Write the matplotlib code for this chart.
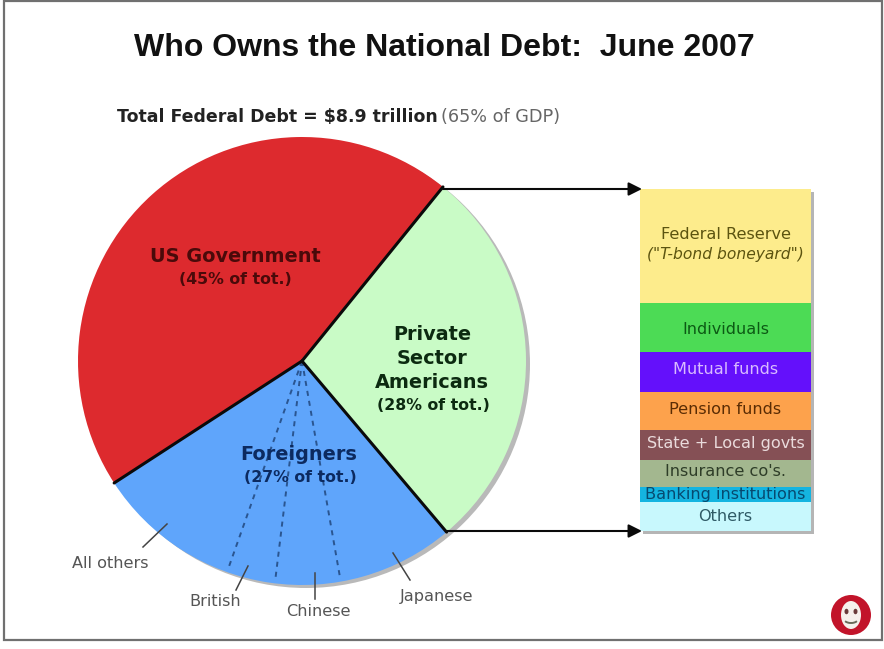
"""Who owns the national debt: pie of holders plus a stacked breakdown of the private share."""

import numpy as np
import matplotlib
matplotlib.use("Agg")
import matplotlib.pyplot as plt
from matplotlib.patches import Circle, Ellipse, Rectangle, Arc

W, H = 884, 649

# Share of total debt, percent
holder_names = ["US Government", "Foreigners", "Private Sector\nAmericans"]
holder_shares = [45, 27, 28]
holder_colors = ["#dd2a2e", "#5fa5fb", "#c9fbc6"]
holder_text = ["#4a0a0a", "#0c2a60", "#0c2a10"]

# Foreign holders, percent of total debt, in order from the red edge
foreign_names = ["All others", "British", "Chinese", "Japanese"]
foreign_shares = [10.4, 3.5, 4.7, 8.4]

# Private sector breakdown, percent of private holdings, top to bottom
private_names = ["Federal Reserve", "Individuals", "Mutual funds", "Pension funds",
                 "State + Local govts", "Insurance co's.", "Banking institutions", "Others"]
private_shares = [33.3, 14.3, 11.7, 11.1, 8.8, 7.9, 4.4, 8.5]
private_colors = ["#fdec8c", "#4cdb55", "#6410fb", "#fda24c", "#855055", "#a3b78f", "#14b4e0", "#c8f8fd"]
private_text = ["#5c5410", "#0c5a14", "#d9bbff", "#5a2c04", "#eadbdc", "#2e3d28", "#064a70", "#2f5a66"]

PIE_X, PIE_Y, PIE_R = 302, 361, 224
START_ANGLE = 51.0
BAR_LEFT, BAR_RIGHT, BAR_TOP, BAR_BOTTOM = 640, 811, 189, 531
SMALL = 11.6


def fy(y):
    # pixel rows run downward, the axes run upward
    return H - y


def rim(angle, r=PIE_R):
    a = np.radians(angle)
    return PIE_X + r * np.cos(a), fy(PIE_Y) + r * np.sin(a)


fig = plt.figure(figsize=(W / 100, H / 100), dpi=100)
ax = fig.add_axes([0, 0, 1, 1])
ax.set_xlim(0, W)
ax.set_ylim(0, H)
ax.set_axis_off()

ax.add_patch(Rectangle((4, fy(640)), 878, 639, fc="white", ec="#707070", lw=1.6))

ax.text(444, fy(48), "Who Owns the National Debt:  June 2007", ha="center", va="center",
        family="Liberation Sans", fontweight="bold", fontsize=23, color="#111111")
ax.text(117, fy(117), "Total Federal Debt = $8.9 trillion", ha="left", va="center",
        family="DejaVu Sans", fontweight="bold", fontsize=12.5, color="#222222")
ax.text(441, fy(117), "(65% of GDP)", ha="left", va="center",
        family="DejaVu Sans", fontsize=12.7, color="#666666")

# Pie with a soft shadow peeking out at the lower right
ax.add_patch(Circle((PIE_X + 4, fy(PIE_Y) - 3), PIE_R, fc="#b9b9b9", ec="none", zorder=1))
wedges, _ = ax.pie(holder_shares, colors=holder_colors, startangle=START_ANGLE,
                   center=(PIE_X, fy(PIE_Y)), radius=PIE_R, counterclock=True,
                   frame=True, wedgeprops={"zorder": 2, "linewidth": 0})
ax.set_xlim(0, W)
ax.set_ylim(0, H)
ax.set_aspect("auto")
ax.set_axis_off()

# Black boundaries between the three holders
edges = START_ANGLE + np.cumsum([0] + holder_shares[:-1]) * 3.6
for a in edges:
    x, y = rim(a)
    ax.plot([PIE_X, x], [fy(PIE_Y), y], color="#0a0a0a", lw=2.2, zorder=4, solid_capstyle="round")

# Dashed splits inside the foreign slice
foreign_start = START_ANGLE + holder_shares[0] * 3.6
splits = foreign_start + np.cumsum(foreign_shares[:-1]) * 3.6
for a in splits:
    x, y = rim(a, PIE_R * 0.98)
    ax.plot([PIE_X, x], [fy(PIE_Y), y], color="#2a5590", lw=1.4, ls=(0, (2.6, 2.6)), zorder=3)

# Labels on the pie
ax.text(235, fy(256), holder_names[0], ha="center", va="center", family="DejaVu Sans",
        fontweight="bold", fontsize=13.9, color=holder_text[0], zorder=5)
ax.text(235, fy(279), f"({holder_shares[0]}% of tot.)", ha="center", va="center", family="DejaVu Sans",
        fontweight="bold", fontsize=11.3, color=holder_text[0], zorder=5)
ax.text(299, fy(455), holder_names[1], ha="center", va="center", family="DejaVu Sans",
        fontweight="bold", fontsize=13.9, color=holder_text[1], zorder=5)
ax.text(300, fy(478), f"({holder_shares[1]}% of tot.)", ha="center", va="center", family="DejaVu Sans",
        fontweight="bold", fontsize=11.3, color=holder_text[1], zorder=5)
ax.text(432, fy(334), "Private", ha="center", va="center", family="DejaVu Sans",
        fontweight="bold", fontsize=13.9, color=holder_text[2], zorder=5)
ax.text(432, fy(358), "Sector", ha="center", va="center", family="DejaVu Sans",
        fontweight="bold", fontsize=13.9, color=holder_text[2], zorder=5)
ax.text(432, fy(382), "Americans", ha="center", va="center", family="DejaVu Sans",
        fontweight="bold", fontsize=13.9, color=holder_text[2], zorder=5)
ax.text(433, fy(405), f"({holder_shares[2]}% of tot.)", ha="center", va="center", family="DejaVu Sans",
        fontweight="bold", fontsize=11.3, color=holder_text[2], zorder=5)

# Leader lines for the foreign holders
label_pos = [(110, 563), (215, 601), (318, 612), (437, 597)]
leaders = [((167, 524), (143, 547)), ((248, 566), (236, 590)),
           ((315, 573), (315, 599)), ((393, 553), (410, 580))]
for name, pos, (p0, p1) in zip(foreign_names, label_pos, leaders):
    ax.plot([p0[0], p1[0]], [fy(p0[1]), fy(p1[1])], color="#444444", lw=1.1, zorder=5)
    ax.text(pos[0], fy(pos[1]), name, ha="center", va="center", family="DejaVu Sans",
            fontsize=SMALL, color="#555555", zorder=5)

# Arrows from the private slice to the stack
top_x, top_y = rim(edges[0])
low_x, low_y = rim(edges[2])
for x0, y1 in [(top_x, fy(BAR_TOP)), (low_x, fy(BAR_BOTTOM))]:
    ax.annotate("", xy=(BAR_LEFT + 2, y1), xytext=(x0, y1),
                arrowprops=dict(arrowstyle="-|>", color="#0a0a0a", lw=1.5, mutation_scale=20,
                                shrinkA=0, shrinkB=0), zorder=5)

# Stacked breakdown of the private share
ax.add_patch(Rectangle((BAR_LEFT + 3, fy(BAR_BOTTOM) - 3), BAR_RIGHT - BAR_LEFT, BAR_BOTTOM - BAR_TOP,
                       fc="#b5b5b5", ec="none", zorder=1))
bar_ax = ax.inset_axes([BAR_LEFT, fy(BAR_BOTTOM), BAR_RIGHT - BAR_LEFT, BAR_BOTTOM - BAR_TOP],
                       transform=ax.transData, zorder=3)
bar_ax.set_xlim(0, 1)
bar_ax.set_ylim(100, 0)
bar_ax.set_axis_off()
tops = np.cumsum([0] + private_shares[:-1])
bar_ax.bar(0.5, private_shares, width=1, bottom=tops, color=private_colors, linewidth=0)

text_nudge = [0, 0.6, -0.6, -0.4, -0.3, -0.6, 0, 0]
for name, top, share, col, dy in zip(private_names, tops, private_shares, private_text, text_nudge):
    mid = top + share / 2 + dy
    if name == "Federal Reserve":
        bar_ax.text(0.5, 13.2, name, ha="center", va="center", family="DejaVu Sans", fontsize=SMALL, color=col)
        bar_ax.text(0.5, 19.2, "(\"T-bond boneyard\")", ha="center", va="center", family="DejaVu Sans",
                    style="italic", fontsize=11.2, color=col)
    else:
        bar_ax.text(0.5, mid, name, ha="center", va="center", family="DejaVu Sans", fontsize=SMALL, color=col)

# Round red logo in the corner
lx, ly = 851, fy(615)
ax.add_patch(Ellipse((lx, ly), 40, 40, fc="#c2142a", ec="none", zorder=5))
ax.add_patch(Ellipse((lx, ly), 20, 28, fc="#f6f0ec", ec="none", zorder=6))
ax.add_patch(Ellipse((lx - 4.5, ly + 3.5), 4, 5.5, fc="#6a3a3a", ec="none", zorder=7))
ax.add_patch(Ellipse((lx + 4.5, ly + 3.5), 4, 5.5, fc="#6a3a3a", ec="none", zorder=7))
ax.add_patch(Arc((lx, ly - 4), 14, 8, theta1=200, theta2=340, color="#6a6a5a", lw=1.4, zorder=7))

fig.savefig("out.png", dpi=100, facecolor="white")
plt.close(fig)
